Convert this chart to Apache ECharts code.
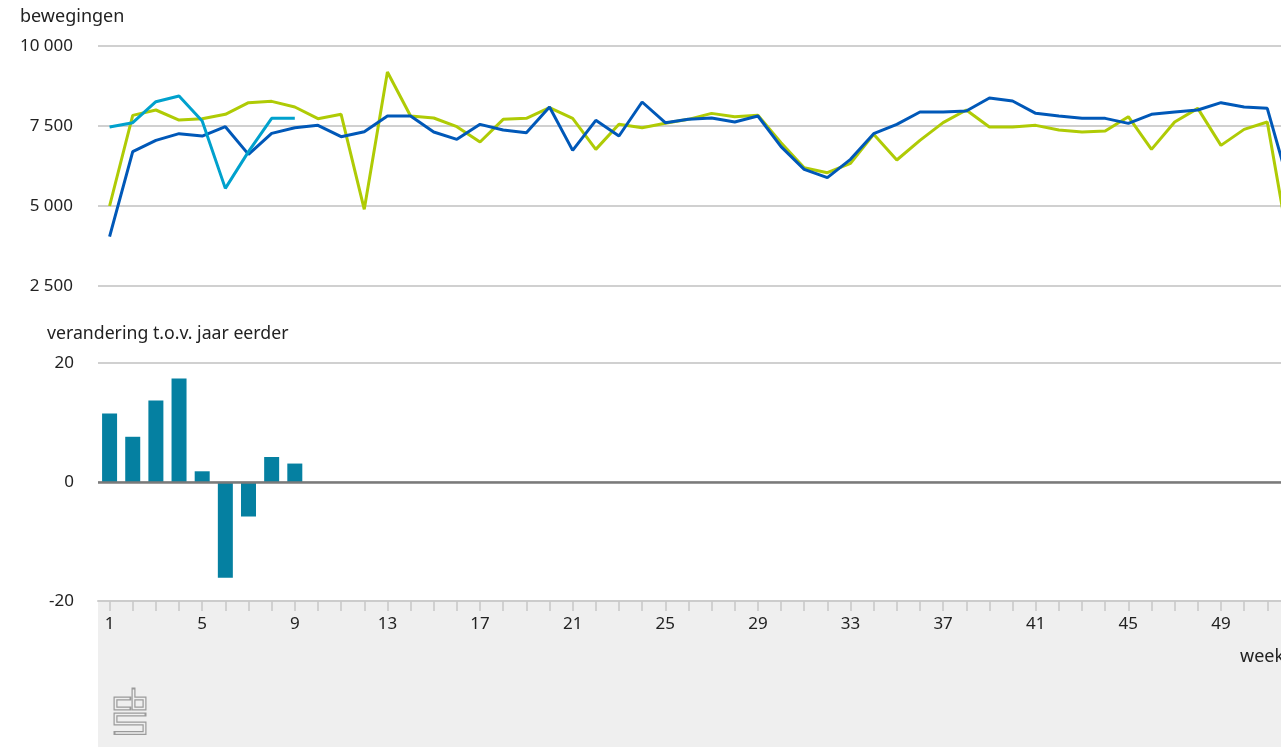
<!DOCTYPE html>
<html>
<head>
<meta charset="utf-8">
<script src="https://cdn.jsdelivr.net/npm/echarts@6/dist/echarts.min.js"></script>
<style>
html,body{margin:0;padding:0;background:#fff;overflow:hidden;}
#chart{width:1281px;height:747px;}
</style>
</head>
<body>
<div id="chart"></div>
<script>
// ---- data ----
const weeks = Array.from({length: 52}, (_, i) => String(i + 1));
const yTicksTop = [2500, 5000, 7500, 10000];
const yTicksBottom = [-20, 0, 20];

const seriesGreen = [5000, 7833, 8000, 7687, 7729, 7865, 8229, 8270, 8094, 7729,
  7865, 4896, 9187, 7812, 7750, 7479, 7000, 7708, 7739, 8073,
  7739, 6770, 7552, 7447, 7583, 7708, 7895, 7791, 7833, 6979,
  6198, 6041, 6333, 7239, 6437, 7052, 7604, 8000, 7468, 7468,
  7520, 7375, 7312, 7343, 7791, 6770, 7625, 8052, 6895, 7395,
  7625, 3500];
const seriesDarkBlue = [4040, 6697, 7052, 7260, 7187, 7479, 6614, 7270, 7447, 7520,
  7166, 7322, 7812, 7812, 7312, 7083, 7552, 7375, 7291, 8094,
  6739, 7677, 7187, 8250, 7604, 7708, 7750, 7625, 7812, 6854,
  6146, 5885, 6458, 7260, 7552, 7937, 7937, 7968, 8375, 8281,
  7895, 7812, 7739, 7739, 7583, 7864, 7937, 8000, 8229, 8094,
  8052, 5500];
const seriesLightBlue = [7468, 7604, 8260, 8437, 7656, 5551, 6700, 7739, 7739];
const changePct = [11.5, 7.6, 13.7, 17.4, 1.8, -16.1, -5.8, 4.2, 3.1];

const fmt = v => String(v).replace(/\B(?=(\d{3})+(?!\d))/g, ' ');
const FONT = '"Noto Sans", "Open Sans", sans-serif';
const TXT = '#222';

const chart = echarts.init(document.getElementById('chart'), null, {renderer: 'canvas'});

// CBS logo drawn as double-stroke polylines
function logoPart(points) {
  return [
    {type: 'polyline', z: 1, silent: true, shape: {points}, style: {stroke: '#9a9a9a', lineWidth: 4, fill: null, lineCap: 'square', lineJoin: 'miter'}},
    {type: 'polyline', z: 2, silent: true, shape: {points}, style: {stroke: '#efefef', lineWidth: 1.6, fill: null, lineCap: 'butt', lineJoin: 'miter'}}
  ];
}
const logo = [].concat(
  logoPart([[129.5,698.5],[115.5,698.5],[115.5,708.5],[129.5,708.5]]),
  logoPart([[133.5,689.5],[133.5,708.5],[144.5,708.5],[144.5,698.5],[133.5,698.5]]),
  logoPart([[144.5,714.5],[115.5,714.5],[115.5,723.5],[144.5,723.5],[144.5,733],[115.5,733]])
);

chart.setOption({
  animation: false,
  backgroundColor: '#fff',
  textStyle: {fontFamily: FONT},
  graphic: [
    {type: 'rect', z: -10, silent: true, shape: {x: 98, y: 601, width: 1300, height: 160, r: [0,0,0,4]}, style: {fill: '#efefef'}},
    {type: 'text', left: 20, top: 8, style: {text: 'bewegingen', fill: TXT, font: '18px ' + FONT}},
    {type: 'text', left: 47, top: 325, style: {text: 'verandering t.o.v. jaar eerder', fill: TXT, font: '17.7px ' + FONT}},
    {type: 'text', left: 1240, top: 648, style: {text: 'week', fill: TXT, font: '18px ' + FONT}},
    {type: 'group', children: logo}
  ],
  grid: [
    {left: 98, top: 46, width: 1204, height: 240, outerBoundsMode: 'none', containLabel: false},
    {left: 98, top: 363, width: 1204, height: 238, outerBoundsMode: 'none', containLabel: false}
  ],
  xAxis: [
    {type: 'category', gridIndex: 0, data: weeks, boundaryGap: true,
      axisLine: {show: false}, axisTick: {show: false}, axisLabel: {show: false}},
    {type: 'category', gridIndex: 1, data: weeks, boundaryGap: true, position: 'bottom',
      axisLine: {show: true, onZero: false, lineStyle: {color: '#cccccc', width: 2}},
      axisTick: {show: true, alignWithLabel: true, interval: 0, length: 10, lineStyle: {color: '#c8c8c8', width: 1.5}},
      axisLabel: {interval: 3, margin: 15, fontSize: 17, color: TXT, fontFamily: FONT}}
  ],
  yAxis: [
    {type: 'value', gridIndex: 0, min: yTicksTop[0], max: yTicksTop[yTicksTop.length-1], interval: 2500,
      axisLine: {show: false}, axisTick: {show: false},
      axisLabel: {margin: 25, fontSize: 17, color: TXT, fontFamily: FONT, formatter: fmt},
      splitLine: {show: true, lineStyle: {color: '#d0d0d0', width: 2}}},
    {type: 'value', gridIndex: 1, min: yTicksBottom[0], max: yTicksBottom[yTicksBottom.length-1], interval: 20,
      axisLine: {show: false}, axisTick: {show: false},
      axisLabel: {margin: 24, fontSize: 17, color: TXT, fontFamily: FONT},
      splitLine: {show: true, lineStyle: {color: '#d0d0d0', width: 2}}}
  ],
  series: [
    {name: 'groen', type: 'line', xAxisIndex: 0, yAxisIndex: 0, data: seriesGreen,
      symbol: 'none', lineStyle: {color: '#afcb05', width: 3}, itemStyle: {color: '#afcb05'}, z: 2},
    {name: 'donkerblauw', type: 'line', xAxisIndex: 0, yAxisIndex: 0, data: seriesDarkBlue,
      symbol: 'none', lineStyle: {color: '#0058b8', width: 3}, itemStyle: {color: '#0058b8'}, z: 3},
    {name: 'lichtblauw', type: 'line', xAxisIndex: 0, yAxisIndex: 0, data: seriesLightBlue,
      symbol: 'none', lineStyle: {color: '#00a1cd', width: 3}, itemStyle: {color: '#00a1cd'}, z: 4},
    {name: 'verandering', type: 'bar', xAxisIndex: 1, yAxisIndex: 1, data: changePct,
      barWidth: 15, itemStyle: {color: '#0580a1'}, z: 2,
      markLine: {silent: true, symbol: 'none', label: {show: false},
        lineStyle: {color: '#7a7a7a', width: 2.5, type: 'solid'}, data: [{yAxis: 0}]}}
  ]
});
</script>
</body>
</html>
